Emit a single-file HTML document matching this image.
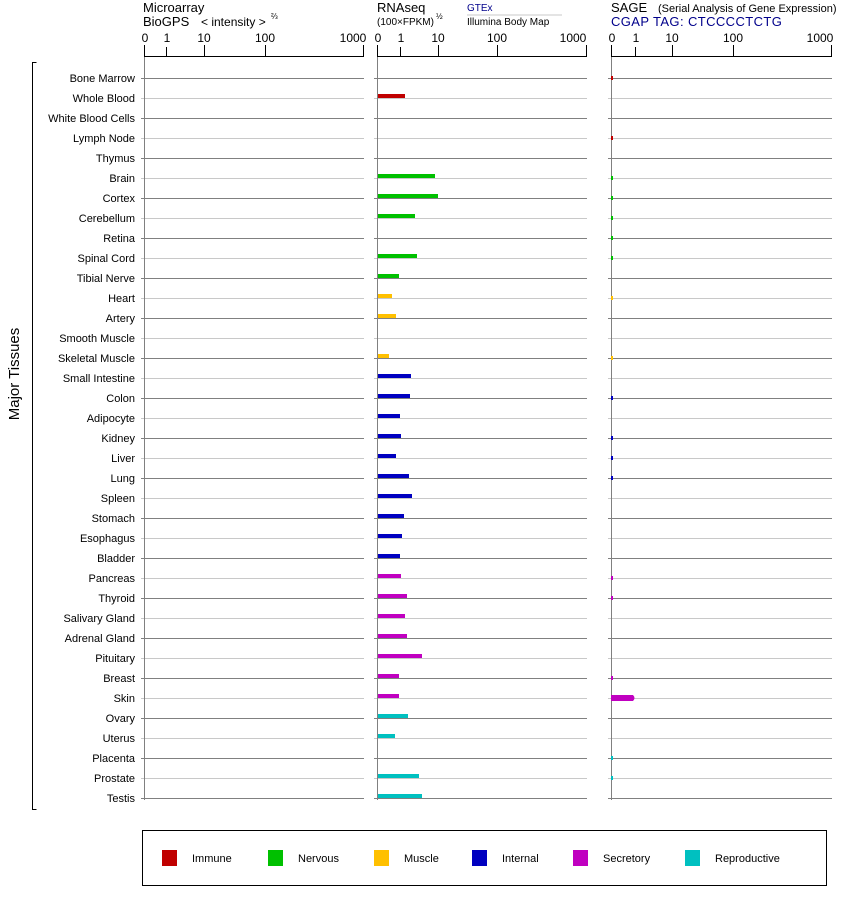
<!DOCTYPE html>
<html><head><meta charset="utf-8"><style>
html,body{margin:0;padding:0;background:#fff;}
svg{display:block;font-family:"Liberation Sans",Arial,sans-serif;}
</style></head><body>
<svg width="842" height="900" viewBox="0 0 842 900" xmlns="http://www.w3.org/2000/svg">
<!-- headers -->
<text x="143" y="12" font-size="13">Microarray</text>
<text x="143" y="26" font-size="13">BioGPS</text>
<text x="201" y="26" font-size="12">&lt; intensity &gt;</text>
<text x="271" y="19" font-size="8">⅔</text>
<text x="377" y="12" font-size="13">RNAseq</text>
<text x="377" y="25" font-size="10">(100×FPKM)</text>
<text x="436" y="19" font-size="8">½</text>
<text x="467" y="11" font-size="10" fill="#00008b">GTEx</text>
<line x1="467" y1="15" x2="562" y2="15" stroke="#c8c8c8"/>
<text x="467" y="25" font-size="10">Illumina Body Map</text>
<text x="611" y="12" font-size="13">SAGE</text>
<text x="658" y="12" font-size="11">(Serial Analysis of Gene Expression)</text>
<text x="611" y="26" font-size="13" fill="#00008b" letter-spacing="0.4">CGAP TAG: CTCCCCTCTG</text>

<g font-size="12" text-anchor="middle">
<text x="145" y="42">0</text><text x="167" y="42">1</text><text x="204" y="42">10</text><text x="265" y="42">100</text><text x="353" y="42">1000</text>
<text x="378" y="42">0</text><text x="401" y="42">1</text><text x="438" y="42">10</text><text x="497" y="42">100</text><text x="573" y="42">1000</text>
<text x="612" y="42">0</text><text x="636" y="42">1</text><text x="672" y="42">10</text><text x="733" y="42">100</text><text x="820" y="42">1000</text>
</g>
<g stroke="#000" stroke-width="1">
<line x1="144" y1="56.5" x2="364" y2="56.5"/>
<line x1="144.5" y1="45" x2="144.5" y2="57"/><line x1="166.5" y1="47" x2="166.5" y2="57"/><line x1="204.5" y1="45" x2="204.5" y2="57"/><line x1="265.5" y1="45" x2="265.5" y2="57"/><line x1="363.5" y1="45" x2="363.5" y2="57"/>
<line x1="377" y1="56.5" x2="587" y2="56.5"/>
<line x1="377.5" y1="45" x2="377.5" y2="57"/><line x1="400.5" y1="47" x2="400.5" y2="57"/><line x1="438.5" y1="45" x2="438.5" y2="57"/><line x1="497.5" y1="45" x2="497.5" y2="57"/><line x1="586.5" y1="45" x2="586.5" y2="57"/>
<line x1="611" y1="56.5" x2="832" y2="56.5"/>
<line x1="611.5" y1="45" x2="611.5" y2="57"/><line x1="635.5" y1="47" x2="635.5" y2="57"/><line x1="672.5" y1="45" x2="672.5" y2="57"/><line x1="733.5" y1="45" x2="733.5" y2="57"/><line x1="831.5" y1="45" x2="831.5" y2="57"/>
</g>

<!-- gridlines -->
<g id="grid"></g>
<g stroke="#808080">
<line x1="144.5" y1="57" x2="144.5" y2="800"/>
<line x1="377.5" y1="57" x2="377.5" y2="800"/>
<line x1="611.5" y1="57" x2="611.5" y2="800"/>
</g>
<g id="rows" font-size="11" text-anchor="end"></g>

<!-- bracket -->
<path d="M36.5 62.5 H32.5 V809.5 H36.5" fill="none" stroke="#000"/>
<text transform="translate(19,374) rotate(-90)" font-size="15" text-anchor="middle">Major Tissues</text>

<!-- legend -->
<rect x="142.5" y="830.5" width="684" height="55" fill="none" stroke="#000"/>
<g font-size="11">
<rect x="162" y="850" width="15" height="16" fill="#c00000"/><text x="192" y="862">Immune</text>
<rect x="268" y="850" width="15" height="16" fill="#00c000"/><text x="298" y="862">Nervous</text>
<rect x="374" y="850" width="15" height="16" fill="#ffc000"/><text x="404" y="862">Muscle</text>
<rect x="472" y="850" width="15" height="16" fill="#0000c0"/><text x="502" y="862">Internal</text>
<rect x="573" y="850" width="15" height="16" fill="#c000c0"/><text x="603" y="862">Secretory</text>
<rect x="685" y="850" width="15" height="16" fill="#00c0c0"/><text x="715" y="862">Reproductive</text>
</g>
<path d="M611 695 H633 Q636 698 633 701 H611 Z" fill="#c000c0"/>
</svg>
<script>
var names=["Bone Marrow","Whole Blood","White Blood Cells","Lymph Node","Thymus","Brain","Cortex","Cerebellum","Retina","Spinal Cord","Tibial Nerve","Heart","Artery","Smooth Muscle","Skeletal Muscle","Small Intestine","Colon","Adipocyte","Kidney","Liver","Lung","Spleen","Stomach","Esophagus","Bladder","Pancreas","Thyroid","Salivary Gland","Adrenal Gland","Pituitary","Breast","Skin","Ovary","Uterus","Placenta","Prostate","Testis"];
var R="#c00000",G="#00c000",Y="#ffc000",B="#0000c0",M="#c000c0",C="#00c0c0";
var cols=[R,R,R,R,R,G,G,G,G,G,G,Y,Y,Y,Y,B,B,B,B,B,B,B,B,B,B,M,M,M,M,M,M,M,C,C,C,C,C];
var rna={1:405,5:435,6:438,7:415,9:417,10:399,11:392,12:396,14:389,15:411,16:410,17:400,18:401,19:396,20:409,21:412,22:404,23:402,24:400,25:401,26:407,27:405,28:407,29:422,30:399,31:399,32:408,33:395,35:419,36:422};
var sage=[0,3,5,6,7,8,9,11,14,16,18,19,20,25,26,30,34,35];
var ns="http://www.w3.org/2000/svg";
function el(t,a,p){var e=document.createElementNS(ns,t);for(var k in a)e.setAttribute(k,a[k]);p.appendChild(e);return e;}
var g=document.getElementById("grid"),rows=document.getElementById("rows");
for(var i=0;i<37;i++){
 var y=78+20*i,c=(i%2==0)?"#808080":"#c8c8c8";
 [[141,364],[374,587],[608,832]].forEach(function(s){el("line",{x1:s[0],x2:s[1],y1:y+0.5,y2:y+0.5,stroke:c},g);});
 var t=el("text",{x:135,y:y+4},rows);t.textContent=names[i];
 if(rna[i])el("rect",{x:378,y:y-4,width:rna[i]-378,height:4,fill:cols[i]},rows);
 if(sage.indexOf(i)>=0)el("rect",{x:611,y:y-2,width:2,height:4,fill:cols[i]},rows);
}
</script>
</body></html>
